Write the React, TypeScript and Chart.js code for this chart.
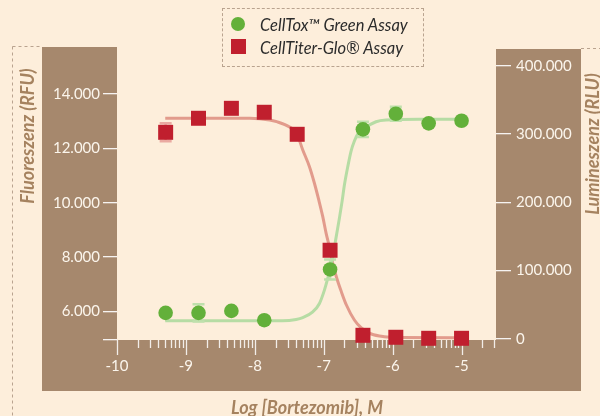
import React, { useEffect, useRef } from 'react';
import { Chart, registerables } from 'chart.js';

Chart.register(...registerables);

// ---------- data ----------
const seriesNames = ['CellTox™ Green Assay', 'CellTiter-Glo® Assay'];
const xTitle = 'Log [Bortezomib], M';
const leftTitle = 'Fluoreszenz (RFU)';
const rightTitle = 'Lumineszenz (RLU)';

const greenX = [-9.294, -8.817, -8.34, -7.863, -6.908, -6.431, -5.954, -5.477, -5.0];
const greenY = [5948, 5948, 6021, 5679, 7546, 12700, 13275, 12921, 13017];
const greenErr = [0, 320, 0, 0, 370, 280, 260, 0, 0];

const redX = [-9.294, -8.817, -8.34, -7.863, -7.385, -6.908, -6.431, -5.954, -5.477, -5.0];
const redY = [302600, 323200, 337800, 332000, 299700, 129700, 5000, 2100, 600, 600];
const redErr = [13200, 0, 0, 0, 0, 0, 0, 0, 0, 0];

const greenFitX = [-9.3, -7.6, -7.4, -7.304, -7.159, -7.062, -6.99, -6.942, -6.907, -6.87, -6.82, -6.772, -6.733, -6.7, -6.652, -6.603, -6.555, -6.507, -6.435, -6.241, -6.096, -5.613, -5.0];
const greenFitY = [5657, 5657, 5705, 5775, 5985, 6294, 6784, 7214, 7546, 7999, 8735, 9435, 10060, 10650, 11313, 11900, 12270, 12527, 12700, 12980, 13043, 13068, 13068];

const redFitX = [-9.3, -8.075, -7.785, -7.684, -7.496, -7.395, -7.304, -7.207, -7.135, -7.072, -7.014, -6.965, -6.907, -6.874, -6.816, -6.743, -6.671, -6.555, -6.454, -6.309, -6.12, -5.903, -5.0];
const redFitY = [323200, 323200, 320700, 318200, 310400, 301600, 276700, 252200, 227900, 203400, 178900, 154500, 130000, 112500, 90500, 68500, 49400, 27400, 15700, 6900, 2900, 1800, 1500];

const xMajorTicks = [-10, -9, -8, -7, -6, -5];
const minorOffsets = [2, 3, 4, 5, 6, 7, 8, 9];
const leftTicks = [6000, 8000, 10000, 12000, 14000];
const rightTicks = [0, 100000, 200000, 300000, 400000];

const X_MIN = -10, X_MAX = -4.5;
const L_MIN = 4950, L_MAX = 15730;
const R_MIN = -1900, R_MAX = 427700;

// ---------- style ----------
const CREAM = '#fdeedb';
const BROWN = '#a6886d';
const TITLE = '#a5825f';
const TICKTXT = '#fbf5ec';
const GREEN = '#63b03a';
const GREEN_FIT = '#b6dca4';
const GREEN_ERR = '#bfe0ac';
const RED = '#c01f2e';
const RED_FIT = '#e29b8c';
const RED_ERR = '#eaa9a1';
const DASH = '#b9a38f';
const FONT = 'Lato, "Open Sans", sans-serif';

const fmt = (v: number) => String(Math.round(v)).replace(/\B(?=(\d{3})+(?!\d))/g, '.');

const xTickValues: number[] = [];
for (let d = -10; d <= -5; d++) {
  xTickValues.push(d);
  for (const k of minorOffsets) {
    const v = d + Math.log10(k);
    if (v <= X_MAX) xTickValues.push(v);
  }
}

const decorPlugin = {
  id: 'decor',
  beforeDraw(chart: any) {
    const { ctx, chartArea: ca, scales } = chart;
    const yl = scales.y, yr = scales.y1, xs = scales.x;
    ctx.save();
    ctx.fillStyle = CREAM;
    ctx.fillRect(0, 0, chart.width, chart.height);
    ctx.fillStyle = BROWN;
    ctx.fillRect(yl.left, ca.top, yl.width, ca.bottom - ca.top);
    ctx.fillRect(yl.left, ca.bottom, yr.right - yl.left, xs.height);
    ctx.fillRect(ca.right, ca.top + 2, yr.width, ca.bottom - ca.top - 2);
    // dashed frame
    ctx.strokeStyle = DASH;
    ctx.lineWidth = 1;
    ctx.setLineDash([3, 3]);
    ctx.beginPath();
    ctx.moveTo(12.5, ca.top - 0.5);
    ctx.lineTo(12.5, chart.height);
    ctx.moveTo(12.5, ca.top - 0.5);
    ctx.lineTo(yl.left, ca.top - 0.5);
    ctx.moveTo(yr.right, ca.top + 1.5);
    ctx.lineTo(chart.width, ca.top + 1.5);
    ctx.stroke();
    ctx.restore();
  },
  beforeDatasetsDraw(chart: any) {
    const { ctx, chartArea: ca, scales } = chart;
    const xs = scales.x;
    ctx.save();
    ctx.strokeStyle = '#ffffff';
    ctx.globalAlpha = 0.85;
    ctx.lineWidth = 1.3;
    ctx.beginPath();
    for (const v of xTickValues) {
      const px = Math.round(xs.getPixelForValue(v)) + 0.5;
      const len = xMajorTicks.includes(v) ? 15 : 8;
      ctx.moveTo(px, ca.bottom);
      ctx.lineTo(px, ca.bottom + len);
    }
    ctx.stroke();
    ctx.restore();
  },
  beforeDatasetDraw(chart: any, args: any) {
    const idx = args.index;
    if (idx !== 0 && idx !== 1) return;
    const { ctx, scales } = chart;
    const xs = scales.x;
    const ys = idx === 0 ? scales.y : scales.y1;
    const X = idx === 0 ? greenX : redX;
    const Y = idx === 0 ? greenY : redY;
    const E = idx === 0 ? greenErr : redErr;
    ctx.save();
    ctx.strokeStyle = idx === 0 ? GREEN_ERR : RED_ERR;
    ctx.lineWidth = 2.5;
    ctx.beginPath();
    E.forEach((e, i) => {
      if (!e) return;
      const px = xs.getPixelForValue(X[i]);
      const y1 = ys.getPixelForValue(Y[i] + e);
      const y2 = ys.getPixelForValue(Y[i] - e);
      ctx.moveTo(px, y1);
      ctx.lineTo(px, y2);
      ctx.moveTo(px - 6, y1);
      ctx.lineTo(px + 6, y1);
      ctx.moveTo(px - 6, y2);
      ctx.lineTo(px + 6, y2);
    });
    ctx.stroke();
    ctx.restore();
  },
  afterDraw(chart: any) {
    const { ctx } = chart;
    ctx.save();
    ctx.fillStyle = TITLE;
    ctx.font = `italic bold 18px ${FONT}`;
    ctx.textAlign = 'center';
    ctx.textBaseline = 'middle';
    ctx.fillText(xTitle, 307, 408);
    ctx.translate(28, 136);
    ctx.rotate(-Math.PI / 2);
    ctx.fillText(leftTitle, 0, 0);
    ctx.restore();
    ctx.save();
    ctx.fillStyle = TITLE;
    ctx.font = `italic bold 18px ${FONT}`;
    ctx.textAlign = 'center';
    ctx.textBaseline = 'middle';
    ctx.translate(593, 144);
    ctx.rotate(-Math.PI / 2);
    ctx.fillText(rightTitle, 0, 0);
    ctx.restore();
  },
};

export default function App() {
  const ref = useRef<HTMLCanvasElement | null>(null);

  useEffect(() => {
    if (!ref.current) return;
    Chart.defaults.font.family = FONT;
    const chart = new Chart(ref.current, {
      type: 'line',
      data: {
        datasets: [
          {
            label: seriesNames[0],
            data: greenX.map((x, i) => ({ x, y: greenY[i] })),
            yAxisID: 'y',
            showLine: false,
            pointStyle: 'circle',
            pointRadius: 7.3,
            pointBorderWidth: 0,
            pointBackgroundColor: GREEN,
            borderColor: GREEN,
            order: 0,
            clip: false,
          } as any,
          {
            label: seriesNames[1],
            data: redX.map((x, i) => ({ x, y: redY[i] })),
            yAxisID: 'y1',
            showLine: false,
            pointStyle: 'rect',
            pointRadius: 10.6,
            pointBorderWidth: 0,
            pointBackgroundColor: RED,
            borderColor: RED,
            order: 0,
            clip: false,
          } as any,
          {
            label: 'fit green',
            data: greenFitX.map((x, i) => ({ x, y: greenFitY[i] })),
            yAxisID: 'y',
            borderColor: GREEN_FIT,
            borderWidth: 3,
            pointRadius: 0,
            cubicInterpolationMode: 'monotone',
            order: 1,
            clip: false,
          } as any,
          {
            label: 'fit red',
            data: redFitX.map((x, i) => ({ x, y: redFitY[i] })),
            yAxisID: 'y1',
            borderColor: RED_FIT,
            borderWidth: 3,
            pointRadius: 0,
            cubicInterpolationMode: 'monotone',
            order: 2,
            clip: false,
          } as any,
        ],
      },
      options: {
        responsive: false,
        animation: false,
        events: [],
        layout: { padding: { left: 42, top: 47, right: 19, bottom: 25 } },
        plugins: { legend: { display: false }, tooltip: { enabled: false } },
        scales: {
          x: {
            type: 'linear',
            position: 'bottom',
            min: X_MIN,
            max: X_MAX,
            grid: { display: false },
            border: { display: false },
            afterBuildTicks: (s: any) => {
              s.ticks = xTickValues.map((v) => ({ value: v }));
            },
            ticks: {
              autoSkip: false,
              maxRotation: 0,
              padding: 9,
              color: TICKTXT,
              font: { size: 15, family: FONT },
              callback: (v: any) => (xMajorTicks.includes(Number(v)) ? String(v) : ''),
            },
            afterFit: (s: any) => {
              s.height = 51;
            },
          },
          y: {
            type: 'linear',
            position: 'left',
            min: L_MIN,
            max: L_MAX,
            afterBuildTicks: (s: any) => {
              s.ticks = [L_MIN, ...leftTicks].map((v) => ({ value: v }));
            },
            grid: { drawOnChartArea: false, drawTicks: true, tickLength: 14, color: 'rgba(255,255,255,0.9)', lineWidth: 1.3 },
            border: { display: false },
            ticks: {
              padding: 3,
              color: TICKTXT,
              font: { size: 15, family: FONT },
              callback: (v: any) => (Number(v) === L_MIN ? '' : fmt(Number(v))),
            },
            afterFit: (s: any) => {
              s.width = 75;
            },
          },
          y1: {
            type: 'linear',
            position: 'right',
            min: R_MIN,
            max: R_MAX,
            afterBuildTicks: (s: any) => {
              s.ticks = rightTicks.map((v) => ({ value: v }));
            },
            grid: { drawOnChartArea: false, drawTicks: true, tickLength: 15, color: 'rgba(255,255,255,0.9)', lineWidth: 1.3 },
            border: { display: false },
            ticks: {
              padding: 5,
              color: TICKTXT,
              font: { size: 15, family: FONT },
              callback: (v: any) => fmt(Number(v)),
            },
            afterFit: (s: any) => {
              s.width = 85;
            },
          },
        },
      } as any,
      plugins: [decorPlugin],
    });
    let alive = true;
    if ((document as any).fonts && (document as any).fonts.load) {
      Promise.all([
        (document as any).fonts.load(`15px Lato`),
        (document as any).fonts.load(`italic bold 18px Lato`),
      ]).then(() => {
        if (alive) chart.update();
      }).catch(() => {});
    }
    return () => {
      alive = false;
      chart.destroy();
    };
  }, []);

  const legendText: React.CSSProperties = {
    position: 'absolute',
    left: 37,
    fontFamily: FONT,
    fontStyle: 'italic',
    fontSize: 16.5,
    lineHeight: '20px',
    color: '#2b2b2b',
    whiteSpace: 'nowrap',
  };

  return (
    <div style={{ position: 'fixed', left: 0, top: 0, width: 600, height: 416, background: CREAM, overflow: 'hidden' }}>
      <canvas ref={ref} width={600} height={416} style={{ display: 'block', width: 600, height: 416 }} />
      <div
        style={{
          position: 'absolute',
          left: 222,
          top: 8,
          width: 202,
          height: 59,
          boxSizing: 'border-box',
          border: `1px dashed ${DASH}`,
        }}
      >
        <div style={{ position: 'absolute', left: 7.7, top: 7.7, width: 14.6, height: 14.6, borderRadius: '50%', background: GREEN }} />
        <div style={{ ...legendText, top: 5.5 }}>{seriesNames[0]}</div>
        <div style={{ position: 'absolute', left: 7.5, top: 29.5, width: 15, height: 15, background: RED }} />
        <div style={{ ...legendText, top: 29 }}>{seriesNames[1]}</div>
      </div>
    </div>
  );
}
